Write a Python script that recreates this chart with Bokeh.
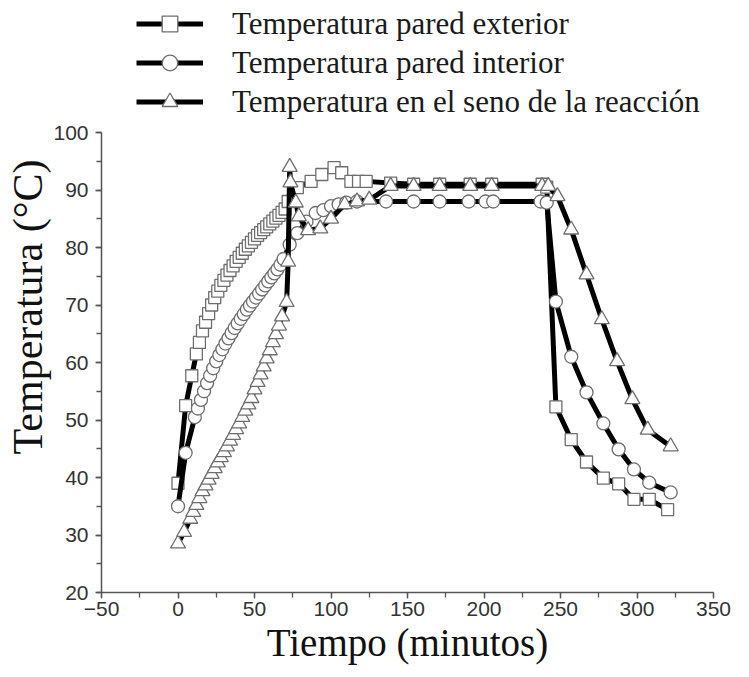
from bokeh.plotting import figure
from bokeh.models import Legend, LegendItem, SingleIntervalTicker, Range1d, Title
from bokeh.embed import file_html
from bokeh.resources import INLINE

# ---- data ----
ext_t = [0, 5, 9, 12,
         14, 16, 18, 20, 22, 24, 26, 28, 30, 32, 34, 36, 38, 40, 42, 44, 46, 48, 50, 52, 54, 56, 58, 60, 62, 64, 66, 68, 70,
         72, 78, 87, 94, 102, 107, 113, 118, 123,
         139, 154, 171, 191, 205, 238, 241,
         247, 257, 267, 278, 288, 298, 308, 320]
ext_v = [39.0, 52.5, 57.7, 61.5,
         63.5, 65.5, 67.0, 68.5, 70.0, 71.3, 72.4, 73.4, 74.3, 75.2, 76.0, 76.8, 77.6, 78.3, 79.0, 79.7, 80.3, 80.9, 81.5, 82.1, 82.6, 83.1, 83.6, 84.1, 84.6, 85.1, 85.6, 86.1, 86.7,
         88.0, 90.4, 91.5, 92.7, 93.9, 93.0, 91.5, 91.5, 91.5,
         91.2, 91.0, 91.0, 91.0, 91.0, 91.0, 90.5,
         52.3, 46.6, 42.7, 39.9, 38.9, 36.2, 36.2, 34.4]

int_t = [0, 5, 11,
         13, 15, 17, 19, 21, 23, 25, 27, 29, 31, 33, 35, 37, 39, 41, 43, 45, 47, 49, 51, 53, 55, 57, 59, 61, 63, 65, 67, 69,
         73, 78, 84, 90, 95, 100, 105, 110, 117,
         136, 154, 171, 190, 201, 206, 237, 241,
         247, 257, 267, 278, 288, 298, 308, 322]
int_v = [35.0, 44.3, 50.5,
         52.0, 53.5, 55.0, 56.4, 57.7, 59.0, 60.2, 61.3, 62.3, 63.3, 64.2, 65.1, 66.0, 66.8, 67.6, 68.4, 69.2, 69.9, 70.6, 71.3, 72.0, 72.7, 73.4, 74.1, 74.8, 75.5, 76.2, 77.0, 78.0,
         80.5, 82.5, 84.5, 86.0, 86.5, 87.2, 87.5, 87.8, 88.0,
         88.0, 88.0, 88.0, 88.0, 88.0, 88.0, 88.0, 87.8,
         70.6, 61.0, 54.8, 49.4, 44.9, 41.4, 39.1, 37.4]

tri_t = [0, 4, 8,
         10, 12, 14, 16, 18, 20, 22, 24, 26, 28, 30, 32, 34, 36, 38, 40, 42, 44, 46, 48, 50, 52, 54, 56, 58, 60, 62, 64, 66, 68,
         71, 72, 73, 73.5, 77, 79, 85, 93, 100, 109, 117, 125,
         139, 154, 171, 191, 205, 238, 242,
         248, 257, 267, 277, 287, 297, 307, 322]
tri_v = [28.5, 30.5, 32.8,
         34.0, 35.2, 36.4, 37.6, 38.6, 39.6, 40.6, 41.6, 42.6, 43.5, 44.4, 45.4, 46.4, 47.4, 48.4, 49.4, 50.5, 51.6, 52.7, 53.8, 55.3, 56.6, 57.9, 59.3, 60.7, 62.1, 63.5, 64.9, 66.4, 68.0,
         70.5, 77.5, 94.0, 91.3, 87.8, 85.4, 83.0, 83.3, 85.0, 87.5, 88.0, 88.3,
         90.7, 90.7, 90.7, 90.7, 90.7, 90.7, 90.7,
         88.9, 83.1, 75.3, 67.5, 60.2, 53.6, 48.3, 45.4]

labels = ["Temperatura pared exterior",
          "Temperatura pared interior",
          "Temperatura en el seno de la reacción"]

Y_MIN, Y_MAX = 20, 100
FRAME_H = 592          # frame spans the whole height above the x axis
PX_PER_UNIT = 460 / (Y_MAX - Y_MIN)

p = figure(width=740, height=677, output_backend="svg", toolbar_location=None,
           x_range=Range1d(-50, 350),
           y_range=Range1d(Y_MIN, Y_MIN + FRAME_H / PX_PER_UNIT),
           min_border_left=101, min_border_right=27, min_border_top=0, min_border_bottom=85)
p.outline_line_color = None
p.xgrid.visible = False
p.ygrid.visible = False

edge = "#6e6e6e"
l1 = p.line(ext_t, ext_v, line_color="black", line_width=5)
s1 = p.scatter(ext_t, ext_v, marker="square", size=12, fill_color="white", line_color=edge, line_width=1.3)
l2 = p.line(int_t, int_v, line_color="black", line_width=5)
s2 = p.scatter(int_t, int_v, marker="circle", size=13, fill_color="white", line_color=edge, line_width=1.3)
l3 = p.line(tri_t, tri_v, line_color="black", line_width=5)
s3 = p.scatter(tri_t, tri_v, marker="triangle", size=15, fill_color="white", line_color=edge, line_width=1.3)

p.xaxis.ticker = SingleIntervalTicker(interval=50, num_minor_ticks=2)
p.yaxis.ticker = SingleIntervalTicker(interval=10, num_minor_ticks=2)
p.yaxis.bounds = (Y_MIN, Y_MAX)

for ax in (p.xaxis[0], p.yaxis[0]):
    ax.axis_line_color = "#555555"
    ax.axis_line_width = 1.5
    ax.major_tick_line_color = "#555555"
    ax.minor_tick_line_color = "#555555"
    ax.major_tick_line_width = 1.3
    ax.minor_tick_line_width = 1.3
    ax.major_tick_in = 0
    ax.minor_tick_in = 0
    ax.major_tick_out = 6
    ax.minor_tick_out = 5
    ax.major_label_text_font = "Liberation Sans"
    ax.major_label_text_font_size = "21px"
    ax.major_label_text_color = "#333333"

p.xaxis.major_label_standoff = 3
p.yaxis.major_label_standoff = 7
p.xaxis.axis_label = "Tiempo (minutos)"
p.xaxis.axis_label_text_font = "Liberation Serif"
p.xaxis.axis_label_text_font_size = "39px"
p.xaxis.axis_label_text_font_style = "normal"
p.xaxis.axis_label_text_color = "#111111"
p.xaxis.axis_label_standoff = 2

ytitle = Title(text="Temperatura (°C)", align="right", offset=159, standoff=0,
               text_font="Liberation Serif", text_font_size="42px",
               text_font_style="normal", text_color="#111111")
p.add_layout(ytitle, "left")

legend = Legend(items=[LegendItem(label=labels[0], renderers=[l1, s1]),
                       LegendItem(label=labels[1], renderers=[l2, s2]),
                       LegendItem(label=labels[2], renderers=[l3, s3])],
                location=(35, 471))
legend.glyph_width = 67
legend.glyph_height = 39
legend.spacing = 0
legend.label_standoff = 29
legend.padding = 0
legend.margin = 0
legend.border_line_color = None
legend.background_fill_alpha = 0
legend.label_text_font = "Liberation Serif"
legend.label_text_font_size = "31px"
legend.label_text_color = "#1a1a1a"
p.add_layout(legend, "center")

open("out.html", "w").write(file_html(p, INLINE))
